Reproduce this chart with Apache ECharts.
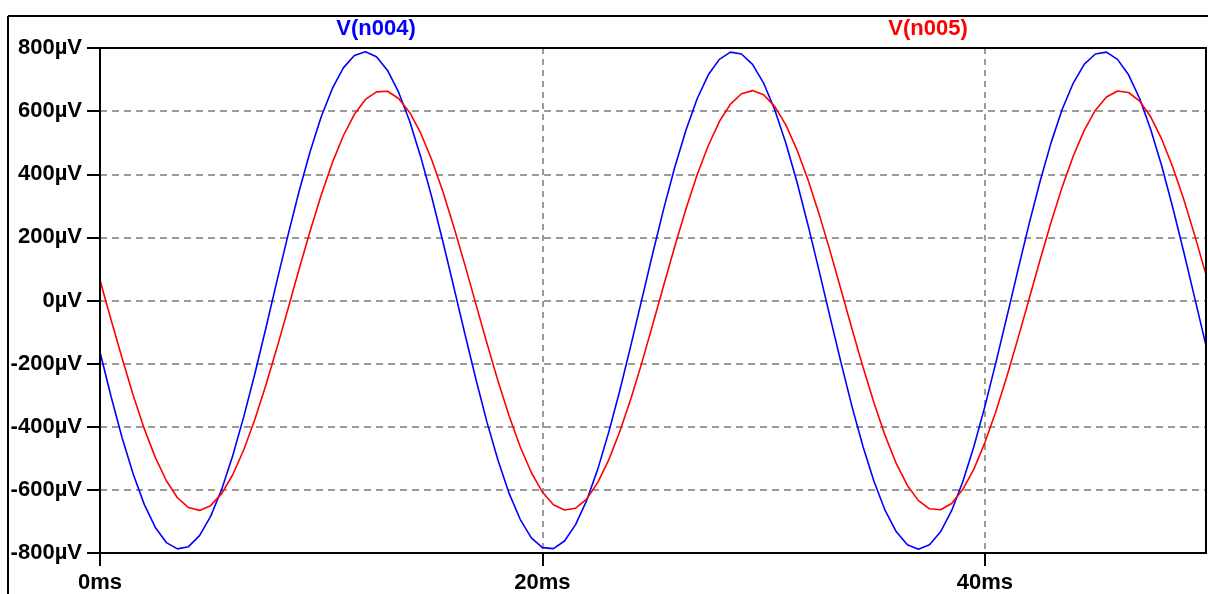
<!DOCTYPE html>
<html>
<head>
<meta charset="utf-8">
<script src="https://cdn.jsdelivr.net/npm/echarts@6/dist/echarts.min.js"></script>
<style>
  html, body { margin: 0; padding: 0; background: #fff; }
  #chart { width: 1208px; height: 594px; }
</style>
</head>
<body>
<div id="chart"></div>
<script>
// time in ms (first sample repeated: traces jump from 0 at t=0)
var timeMs = [
  0, 0, 0.5, 1, 1.5, 2, 2.5, 3, 3.5, 4, 4.5,
  5, 5.5, 6, 6.5, 7, 7.5, 8, 8.5, 9, 9.5,
  10, 10.5, 11, 11.5, 12, 12.5, 13, 13.5, 14, 14.5,
  15, 15.5, 16, 16.5, 17, 17.5, 18, 18.5, 19, 19.5,
  20, 20.5, 21, 21.5, 22, 22.5, 23, 23.5, 24, 24.5,
  25, 25.5, 26, 26.5, 27, 27.5, 28, 28.5, 29, 29.5,
  30, 30.5, 31, 31.5, 32, 32.5, 33, 33.5, 34, 34.5,
  35, 35.5, 36, 36.5, 37, 37.5, 38, 38.5, 39, 39.5,
  40, 40.5, 41, 41.5, 42, 42.5, 43, 43.5, 44, 44.5,
  45, 45.5, 46, 46.5, 47, 47.5, 48, 48.5, 49, 49.5,
  50
];

// V(n004) in µV
var vN004 = [
  0, -163, -304, -435, -550, -646, -719, -767, -787, -780, -745,
  -684, -599, -492, -368, -232, -87, 62, 207, 346, 472,
  582, 671, 737, 776, 788, 772, 729, 660, 568, 455,
  327, 187, 41, -107, -251, -387, -508, -612, -694, -752,
  -783, -786, -762, -710, -634, -535, -417, -285, -142, 5,
  153, 295, 426, 542, 640, 715, 764, 787, 781, 748,
  689, 605, 500, 378, 241, 97, -51, -197, -337, -464,
  -575, -666, -733, -774, -788, -774, -733, -666, -575, -464,
  -337, -197, -51, 97, 242, 378, 501, 606, 689, 749,
  781, 787, 764, 715, 640, 542, 426, 294, 152, 5,
  -143
];

// V(n005) in µV
var vN005 = [
  0, 64, -61, -183, -300, -406, -497, -571, -625, -656, -665,
  -650, -612, -552, -473, -377, -268, -150, -26, 99, 220,
  334, 436, 522, 590, 637, 661, 663, 640, 596, 530,
  445, 345, 232, 112, -13, -137, -257, -367, -464, -545,
  -607, -647, -664, -658, -629, -577, -505, -415, -311, -196,
  -73, 52, 175, 292, 399, 491, 567, 622, 655, 665,
  652, 615, 557, 479, 384, 276, 158, 34, -91, -212,
  -326, -429, -517, -586, -634, -660, -663, -643, -599, -535,
  -451, -352, -240, -120, 4, 129, 249, 360, 458, 540,
  603, 645, 664, 659, 632, 582, 511, 422, 319, 204,
  82
];

var xTicks = [0, 20, 40];

var font = '"Liberation Sans", Arial, sans-serif';

function pairs(vals) {
  return timeMs.map(function (t, i) { return [t, vals[i]]; });
}

var chart = echarts.init(document.getElementById('chart'));

chart.setOption({
  animation: false,
  backgroundColor: '#fff',
  grid: {
    left: 100, top: 48, right: 2, bottom: 40, z: 5,
    show: true, borderColor: '#000', borderWidth: 2
  },
  xAxis: {
    type: 'value', min: 0, max: 50, interval: 20,
    axisLine: { show: true, onZero: false, lineStyle: { color: '#000', width: 2 } },
    axisTick: { show: true, inside: false, length: 13, customValues: xTicks,
      lineStyle: { color: '#000', width: 2 } },
    axisLabel: {
      customValues: xTicks,
      margin: 19, color: '#000', fontSize: 22, fontWeight: 'bold', fontFamily: font,
      formatter: function (v) { return v === 50 ? '' : v + 'ms'; }
    },
    splitLine: { show: true, lineStyle: { color: '#7a7a7a', width: 1.5, type: [6, 5] } }
  },
  yAxis: {
    type: 'value', min: -800, max: 800, interval: 200,
    axisLine: { show: true, onZero: false, lineStyle: { color: '#000', width: 2 } },
    axisTick: { show: true, inside: false, length: 13, lineStyle: { color: '#000', width: 2 } },
    axisLabel: {
      margin: 18, color: '#000', fontSize: 22, fontWeight: 'bold', fontFamily: font,
      formatter: function (v) { return v + 'µV'; }
    },
    splitLine: { show: true, lineStyle: { color: '#7a7a7a', width: 1.5, type: [7, 5] } }
  },
  graphic: [
    { type: 'line', shape: { x1: 8, y1: 16, x2: 8, y2: 594 },
      style: { stroke: '#000', lineWidth: 2 } },
    { type: 'line', shape: { x1: 8, y1: 16, x2: 1208, y2: 16 },
      style: { stroke: '#000', lineWidth: 2 } },
    { type: 'text', x: 376, y: 29,
      style: { text: 'V(n004)', fill: '#0000ff', fontSize: 22, fontWeight: 'bold',
        fontFamily: font, align: 'center', verticalAlign: 'middle' } },
    { type: 'text', x: 928, y: 29,
      style: { text: 'V(n005)', fill: '#ff0000', fontSize: 22, fontWeight: 'bold',
        fontFamily: font, align: 'center', verticalAlign: 'middle' } }
  ],
  series: [
    {
      name: 'V(n004)', type: 'line', data: pairs(vN004),
      showSymbol: false, symbol: 'none',
      lineStyle: { color: '#0000ff', width: 1.6 }
    },
    {
      name: 'V(n005)', type: 'line', data: pairs(vN005),
      showSymbol: false, symbol: 'none',
      lineStyle: { color: '#ff0000', width: 1.6 }
    }
  ]
});
</script>
</body>
</html>
